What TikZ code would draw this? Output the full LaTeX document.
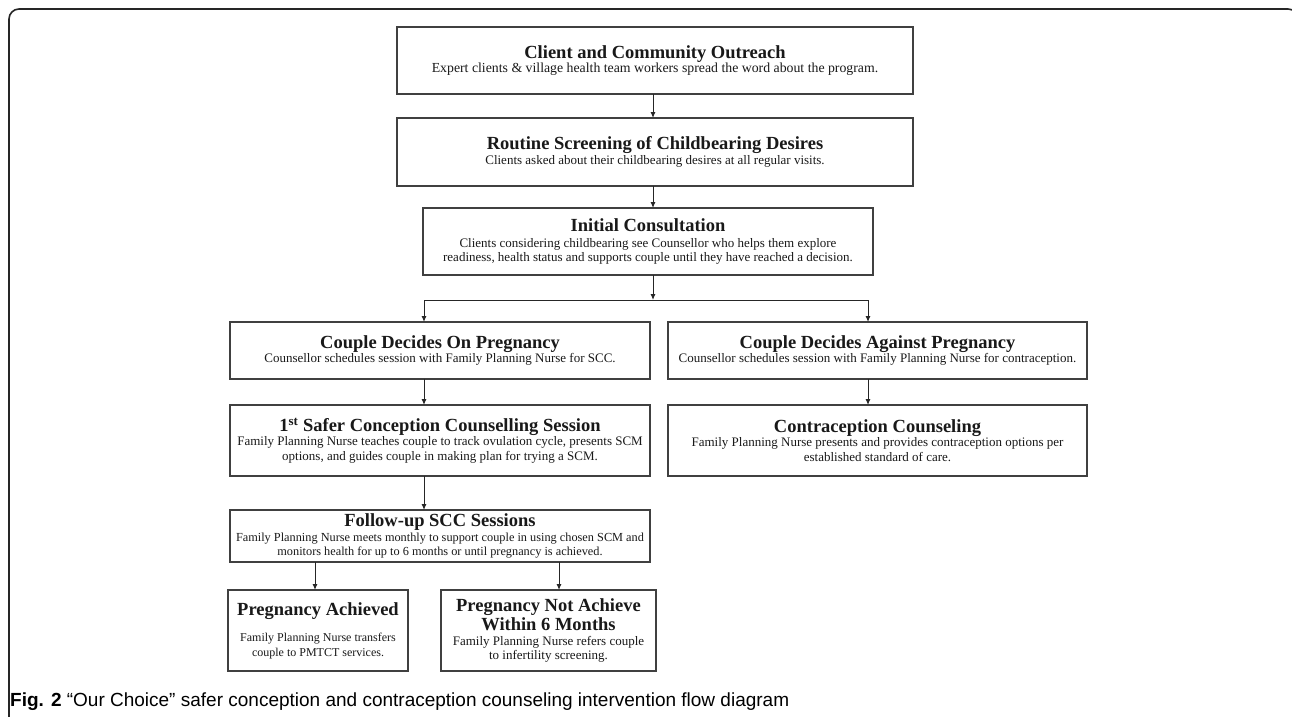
\documentclass[tikz,border=0pt]{standalone}
\usepackage{fontspec}
\setmainfont{Liberation Serif}
\newfontfamily\capfont{Liberation Sans}
\usetikzlibrary{arrows.meta}
\newcommand{\boxtitle}{\fontsize{18.5}{20}\selectfont\bfseries}
\newcommand{\boxbody}{\fontsize{13}{14.5}\selectfont}
\tikzset{
  box/.style={draw=black!75, line width=1.3pt, inner sep=0pt, outer sep=0pt,
              align=center, fill=white, font=\boxbody, text=black!90},
  arr/.style={draw=black!85, line width=1pt, -{Latex[length=6pt,width=5pt]}},
  conn/.style={draw=black!85, line width=1pt},
  frame/.style={draw=black!85, line width=1.6pt, rounded corners=10pt}
}
\begin{document}
\begin{tikzpicture}[x=1pt,y=-1pt]
\useasboundingbox (0,0) rectangle (1292,716);
\begin{scope}
\clip (0,0) rectangle (1292,716);
\draw[frame] (9,730) -- (9,9) -- (1298,9) -- (1298,730);
\end{scope}

\node[box, minimum width=516pt, minimum height=67pt] (b1) at (655,60.5)
  {{\boxtitle Client and Community Outreach}\\
   {\fontsize{13.8}{14.5}\selectfont Expert clients \& village health team workers spread the word about the program.}};
\node[box, minimum width=516pt, minimum height=68pt] (b2) at (655,152)
  {{\boxtitle Routine Screening of Childbearing Desires}\\
   Clients asked about their childbearing desires at all regular visits.};
\node[box, minimum width=450pt, minimum height=67pt] (b3) at (648,241.5)
  {{\boxtitle Initial Consultation}\\[1pt]
   Clients considering childbearing see Counsellor who helps them explore\\
   readiness, health status and supports couple until they have reached a decision.};
\node[box, minimum width=420pt, minimum height=57pt] (b4) at (440,350.5)
  {{\boxtitle Couple Decides On Pregnancy}\\
   Counsellor schedules session with Family Planning Nurse for SCC.};
\node[box, minimum width=419pt, minimum height=57pt] (b5) at (877.5,350.5)
  {{\boxtitle Couple Decides Against Pregnancy}\\
   Counsellor schedules session with Family Planning Nurse for contraception.};
\node[box, minimum width=420pt, minimum height=71pt] (b6) at (440,440.5)
  {{\boxtitle 1\textsuperscript{st} Safer Conception Counselling Session}\\
   Family Planning Nurse teaches couple to track ovulation cycle, presents SCM\\
   options, and guides couple in making plan for trying a SCM.};
\node[box, minimum width=419pt, minimum height=71pt] (b7) at (877.5,440.5)
  {{\boxtitle Contraception Counseling}\\
   Family Planning Nurse presents and provides contraception options per\\
   established standard of care.};
\node[box, minimum width=420pt, minimum height=52pt] (b8) at (440,536)
  {{\boxtitle Follow-up SCC Sessions}\\
   {\fontsize{12.3}{14}\selectfont Family Planning Nurse meets monthly to support couple in using chosen SCM and}\\
   {\fontsize{12.3}{14}\selectfont monitors health for up to 6 months or until pregnancy is achieved.}};
\node[box, minimum width=180pt, minimum height=81pt] (b9) at (318,630.5)
  {{\boxtitle Pregnancy Achieved}\\[12pt]
   {\fontsize{12}{14}\selectfont Family Planning Nurse transfers}\\
   {\fontsize{12}{14}\selectfont couple to PMTCT services.}};
\node[box, minimum width=215pt, minimum height=81pt] (b10) at (548.5,630.5)
  {{\boxtitle Pregnancy Not Achieve}\\[2pt]
   {\boxtitle Within 6 Months}\\
   Family Planning Nurse refers couple\\
   to infertility screening.};

\coordinate (j) at (653,300);
\coordinate (jl) at (424,300);
\coordinate (jr) at (868,300);
\coordinate (ka) at (315,0);
\coordinate (kb) at (559,0);

\draw[arr] (b1.south -| j) -- (b2.north -| j);
\draw[arr] (b2.south -| j) -- (b3.north -| j);
\draw[arr] (b3.south -| j) -- (j);
\draw[conn] (jl) -- (jr);
\draw[arr] (jl) -- (b4.north -| jl);
\draw[arr] (jr) -- (b5.north -| jr);
\draw[arr] (b4.south -| jl) -- (b6.north -| jl);
\draw[arr] (b5.south -| jr) -- (b7.north -| jr);
\draw[arr] (b6.south -| jl) -- (b8.north -| jl);
\draw[arr] (b8.south -| ka) -- (b9.north -| ka);
\draw[arr] (b8.south -| kb) -- (b10.north -| kb);

\node[anchor=base west, inner sep=0pt, font=\capfont\fontsize{19}{21}\selectfont] (cap) at (10,706)
  {\textbf{Fig. 2} “Our Choice” safer conception and contraception counseling intervention flow diagram};
\end{tikzpicture}
\end{document}
